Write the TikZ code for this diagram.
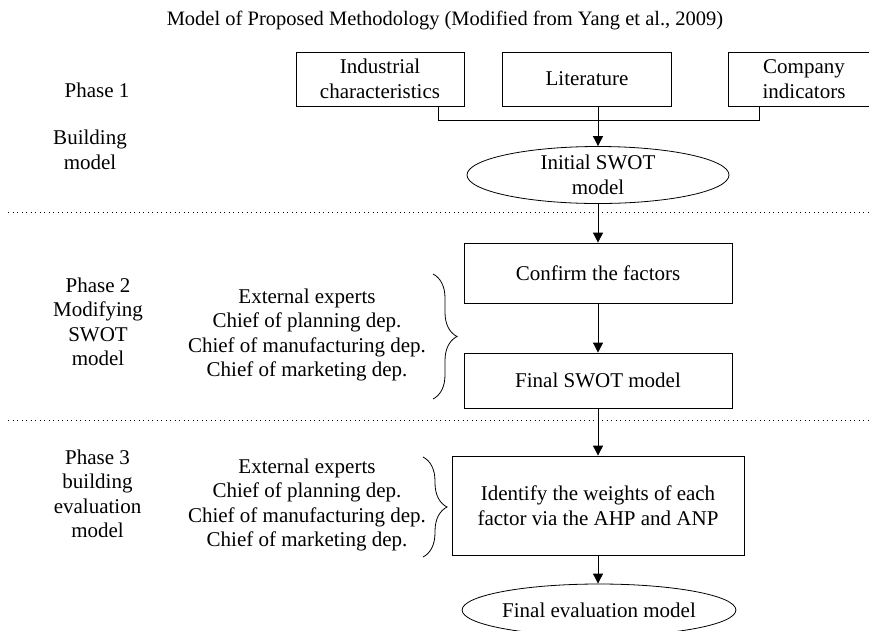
\documentclass[tikz,border=0pt]{standalone}
\usepackage{fontspec}
\setmainfont{Liberation Serif}
\usetikzlibrary{calc}
\usetikzlibrary{positioning}
\usetikzlibrary{shapes.geometric}
\usetikzlibrary{arrows.meta}
\usetikzlibrary{decorations.pathreplacing}

\tikzset{
    txt/.style={align=center, inner sep=0pt,
        font=\fontsize{21}{24.5}\selectfont},
    stage/.style={txt, draw, line width=0.8pt, rectangle},
    oval/.style={txt, draw, line width=0.8pt, ellipse},
    link/.style={line width=0.8pt, -{Triangle[length=10pt,width=10pt]}},
    split/.style={line width=0.7pt, dash pattern=on 1pt off 3.5pt},
    grp/.style={line width=0.8pt, decorate,
        decoration={brace, amplitude=24pt}}
}

\begin{document}
\begin{tikzpicture}[x=1pt, y=-1pt]

    \useasboundingbox (0,0) rectangle (869,630);

    % title
    \node[txt, font=\fontsize{20.5}{24}\selectfont] (title) at (445,20)
    {Model of Proposed Methodology (Modified from Yang et al., 2009)};

    % phase labels on the left
    \node[txt] (p1) at (97,90) {Phase 1};
    \node[txt] (p1b) at (90,150) {Building\\model};
    \node[txt] (p2) at (98,322) {Phase 2\\Modifying\\SWOT\\model};
    \node[txt] (p3) at (97.5,494) {Phase 3\\building\\evaluation\\model};

    % phase 1
    \node[stage, minimum width=168pt, minimum height=54pt] (ind) at (380,79)
    {Industrial\\characteristics};
    \node[stage, minimum width=169pt, minimum height=54pt] (lit) at (587,79)
    {Literature};
    \node[stage, minimum width=152pt, minimum height=54pt] (com) at (804,79)
    {Company\\indicators};
    \node[oval, minimum width=262pt, minimum height=57pt] (swot) at (598,175)
    {Initial SWOT\\model};
    \coordinate (join) at (598,120);

    \draw[line width=0.8pt] ([xshift=58pt]ind.south) |- (join);
    \draw[line width=0.8pt] ([xshift=-45pt]com.south) |- (join);
    \draw[link] (lit.south -| swot.north) -- (swot.north);

    % phase 2
    \node[stage, minimum width=268pt, minimum height=60pt] (conf) at (598,273)
    {Confirm the factors};
    \node[stage, minimum width=268pt, minimum height=55pt] (fin) at (598,380.5)
    {Final SWOT model};
    \node[txt] (team2) at (307,335)
    {External experts\\Chief of planning dep.\\Chief of manufacturing dep.\\Chief of marketing dep.};

    \draw[link] (swot.south) -- (conf.north);
    \draw[link] (conf.south) -- (fin.north);
    \draw[grp] (433,274) -- (433,399);

    % phase 3
    \node[stage, minimum width=292pt, minimum height=99pt] (ahp) at (598,505.5)
    {Identify the weights of each\\factor via the AHP and ANP};
    \node[oval, minimum width=272pt, minimum height=52pt] (eval) at (599,610)
    {Final evaluation model};
    \node[txt] (team3) at (307,505)
    {External experts\\Chief of planning dep.\\Chief of manufacturing dep.\\Chief of marketing dep.};

    \draw[link] (fin.south) -- (ahp.north);
    \draw[link] (ahp.south) -- (ahp.south |- eval.north);
    \draw[grp] (423,457) -- (423,557);

    % phase separators
    \draw[split] (8,212) -- (869,212);
    \draw[split] (8,420) -- (869,420);

\end{tikzpicture}
\end{document}
